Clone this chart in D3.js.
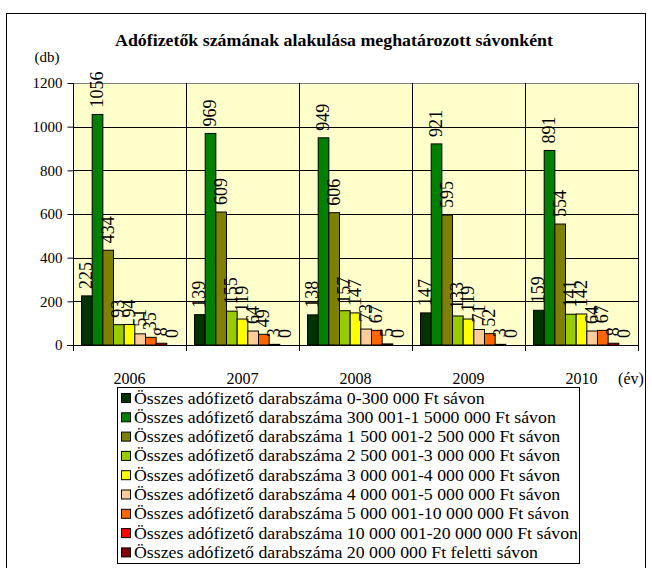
<!DOCTYPE html>
<html><head><meta charset="utf-8">
<script src="https://cdn.jsdelivr.net/npm/d3@7"></script>
<style>body{margin:0;background:#fff}svg{display:block}</style>
</head><body><svg id="c" width="652" height="568" font-family="Liberation Serif"></svg>
<script>
const years = ["2006","2007","2008","2009","2010"];
const seriesNames = [
 "Összes adófizető darabszáma 0-300 000 Ft sávon",
 "Összes adófizető darabszáma 300 001-1 5000 000 Ft sávon",
 "Összes adófizető darabszáma 1 500 001-2 500 000 Ft sávon",
 "Összes adófizető darabszáma 2 500 001-3 000 000 Ft sávon",
 "Összes adófizető darabszáma 3 000 001-4 000 000 Ft sávon",
 "Összes adófizető darabszáma 4 000 001-5 000 000 Ft sávon",
 "Összes adófizető darabszáma 5 000 001-10 000 000 Ft sávon",
 "Összes adófizető darabszáma 10 000 001-20 000 000 Ft sávon",
 "Összes adófizető darabszáma 20 000 000 Ft feletti sávon"
];
const colors = ["#003300","#008000","#808000","#99cc00","#ffff00","#ffcc99","#ff6600","#ff0000","#800000"];
const s0 = [225,139,138,147,159];
const s1 = [1056,969,949,921,891];
const s2 = [434,609,606,595,554];
const s3 = [93,155,157,133,141];
const s4 = [94,119,147,119,142];
const s5 = [51,64,73,71,64];
const s6 = [35,49,67,52,67];
const s7 = [8,3,5,3,8];
const s8 = [0,0,0,0,0];
const series = [s0,s1,s2,s3,s4,s5,s6,s7,s8];
const yTicks = [0,200,400,600,800,1000,1200];
const FF = "Liberation Serif";

const svg = d3.select("#c");
svg.append("rect").attr("x",6.5).attr("y",13.5).attr("width",639).attr("height",570)
  .attr("fill","#fff").attr("stroke","#000").attr("stroke-width",1);

const L=73, R=638, T=83, B=345;
const x0 = d3.scaleBand().domain(years).range([L,R]).paddingInner(0).paddingOuter(0);
const x1 = d3.scaleBand().domain(d3.range(9)).range([0,x0.bandwidth()]).paddingOuter(0.8).paddingInner(0);
const y = d3.scaleLinear().domain([0,1200]).range([B,T]);

svg.append("rect").attr("x",L).attr("y",T).attr("width",R-L).attr("height",B-T).attr("fill","#ffffcc");
svg.append("g").selectAll("line").data(yTicks.filter(d=>d>0)).join("line")
  .attr("x1",L).attr("x2",R).attr("y1",d=>Math.round(y(d))+0.5).attr("y2",d=>Math.round(y(d))+0.5)
  .attr("stroke",d=>d===1200?"#808080":"#000").attr("stroke-width",1);
svg.append("g").selectAll("line").data(years.slice(1)).join("line")
  .attr("x1",d=>Math.round(x0(d))+0.5).attr("x2",d=>Math.round(x0(d))+0.5).attr("y1",T).attr("y2",B+6)
  .attr("stroke","#000");
svg.append("line").attr("x1",R+0.5).attr("x2",R+0.5).attr("y1",T).attr("y2",B+6).attr("stroke","#000");

const g = svg.append("g");
years.forEach((yr,i)=>{
  series.forEach((s,k)=>{
    const bx = x0(yr)+x1(k), bw = x1.bandwidth();
    g.append("rect").attr("x",bx).attr("y",y(s[i])).attr("width",bw).attr("height",Math.max(0,B-y(s[i])))
      .attr("fill",colors[k]).attr("stroke","#000").attr("stroke-width",1);
  });
});
const ya = svg.append("g").attr("transform",`translate(${L+0.5},0)`)
  .call(d3.axisLeft(y).tickValues(yTicks).tickSize(6).tickPadding(5).tickFormat(d3.format("d")));
ya.attr("font-family",FF).attr("font-size",15);
ya.select(".domain").attr("stroke","#000").attr("d",`M0,${T}V${B}`);
ya.selectAll("text").attr("fill","#000").attr("font-family",FF);
svg.append("line").attr("x1",L-6).attr("x2",R).attr("y1",B+0.5).attr("y2",B+0.5).attr("stroke","#000");
svg.append("line").attr("x1",L+0.5).attr("x2",L+0.5).attr("y1",B).attr("y2",B+6).attr("stroke","#000");

years.forEach((yr,i)=>{
  series.forEach((s,k)=>{
    const cx = x0(yr)+x1(k)+x1.bandwidth()/2;
    svg.append("text").attr("transform",`translate(${cx+5.5},${y(s[i])-7}) rotate(-90)`)
      .attr("font-size",18).attr("font-family",FF).attr("fill","#000").text(s[i]);
  });
});
svg.append("g").selectAll("text").data(years).join("text")
  .attr("x",d=>x0(d)+x0.bandwidth()/2).attr("y",384).attr("text-anchor","middle")
  .attr("font-size",16).attr("font-family",FF).text(d=>d);
svg.append("text").attr("x",631).attr("y",384).attr("text-anchor","middle").attr("font-size",16).attr("font-family",FF).text("(év)");
svg.append("text").attr("x",47).attr("y",62).attr("text-anchor","middle").attr("font-size",15).attr("font-family",FF).text("(db)");
svg.append("text").attr("x",115).attr("y",46).attr("font-size",16).attr("font-weight","bold").attr("font-family",FF)
  .attr("textLength",438).attr("lengthAdjust","spacingAndGlyphs")
  .text("Adófizetők számának alakulása meghatározott sávonként");

const lg = svg.append("g");
lg.append("rect").attr("x",117.5).attr("y",387.5).attr("width",462).attr("height",176).attr("fill","#fff").attr("stroke","#000");
const lts = [];
seriesNames.forEach((n,k)=>{
  const cy = 398 + k*19.3;
  lg.append("rect").attr("x",121.5).attr("y",cy-4.5).attr("width",9).attr("height",9).attr("fill",colors[k]).attr("stroke","#000");
  lts.push(lg.append("text").attr("x",134).attr("y",cy+5.5).attr("font-size",17).attr("font-family",FF).text(n));
});
const wmax = lts[7].node().getComputedTextLength();
const f = 444 / wmax;
lts.forEach(t=>{ const w=t.node().getComputedTextLength(); t.attr("textLength",w*f).attr("lengthAdjust","spacingAndGlyphs"); });
</script></body></html>
